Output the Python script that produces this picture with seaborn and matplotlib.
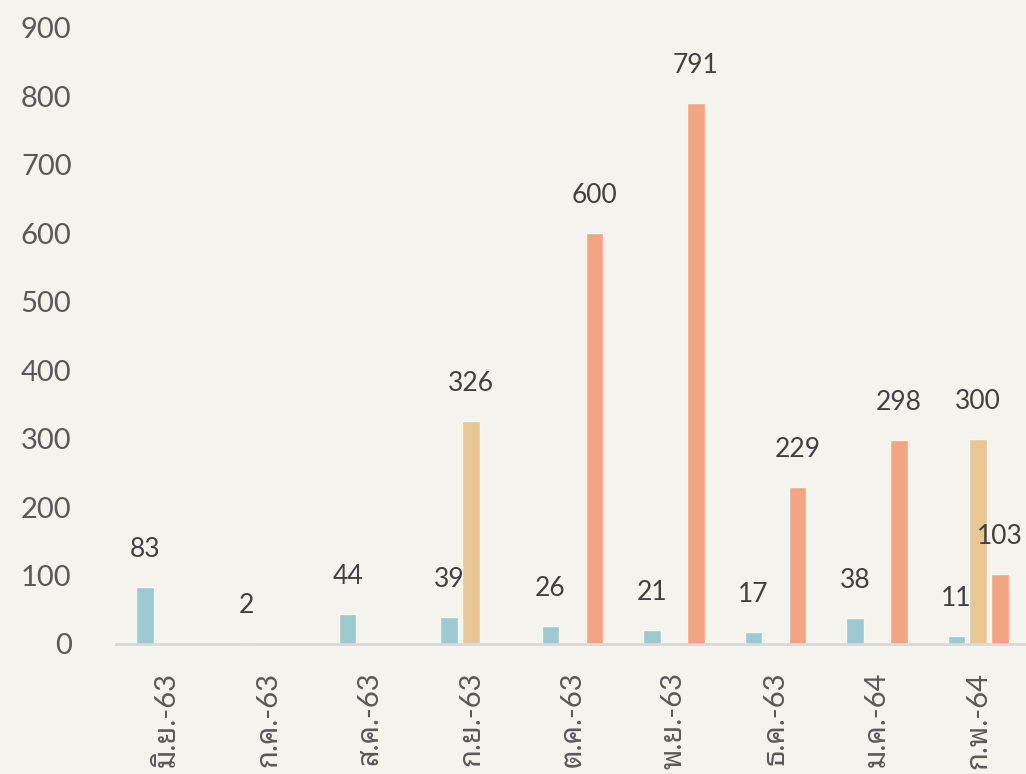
import numpy as np
import pandas as pd
import matplotlib
matplotlib.use("Agg")
import matplotlib.pyplot as plt
import seaborn as sns
from matplotlib import font_manager
from matplotlib.ft2font import FT2Font

months = ['มิ.ย.-63', 'ก.ค.-63', 'ส.ค.-63', 'ก.ย.-63', 'ต.ค.-63',
          'พ.ย.-63', 'ธ.ค.-63', 'ม.ค.-64', 'ก.พ.-64']
series_names = ['A', 'B', 'C']
values_a = [83, 2, 44, 39, 26, 21, 17, 38, 11]
values_b = [np.nan, np.nan, np.nan, 326, np.nan, np.nan, np.nan, np.nan, 300]
values_c = [np.nan, np.nan, np.nan, np.nan, 600, 791, 229, 298, 103]
y_ticks = [0, 100, 200, 300, 400, 500, 600, 700, 800, 900]
colors = ['#9fc9d1', '#e8c794', '#f3a583']


def find_thai():
    for name in ['Noto Sans Thai Looped', 'Noto Looped Thai', 'Noto Serif Thai',
                 'Loma', 'Garuda', 'Norasi', 'Kinnari', 'Waree', 'Umpush',
                 'Tlwg Typo', 'Laksaman', 'Sarabun', 'Noto Sans Thai',
                 'Noto Sans Thai UI']:
        try:
            font_manager.findfont(name, fallback_to_default=False)
            return name
        except Exception:
            pass
    for f in font_manager.fontManager.ttflist:
        try:
            ft = FT2Font(f.fname)
            if 0x0E01 in ft.get_charmap():
                return f.name
        except Exception:
            pass
    return None


sns.set_theme(style="white")
thai = find_thai()
fam = ['Lato']
if thai:
    fam.append(thai)
fam.append('DejaVu Sans')
plt.rcParams['font.family'] = fam

rows = []
for name, vals in zip(series_names, [values_a, values_b, values_c]):
    for m, v in zip(months, vals):
        if not np.isnan(v):
            rows.append({'month': m, 'series': name, 'value': v})
df = pd.DataFrame(rows)

bg = '#f4f3ee'
fig = plt.figure(figsize=(10.26, 7.74), dpi=100, facecolor=bg)
ax = fig.add_axes([116 / 1026, (774 - 644) / 774, (1029 - 116) / 1026, (644 - 28) / 774])
ax.set_facecolor(bg)

sns.barplot(data=df, x='month', y='value', hue='series', order=months,
            hue_order=series_names, palette=colors, saturation=1, width=0.65, gap=0.2,
            edgecolor='#f7f7f2', linewidth=1.0, legend=False, ax=ax)

for cont in ax.containers:
    ax.bar_label(cont, fmt='{:.0f}', padding=18, fontsize=19, color='#404040')

ax.set_ylim(0, 900)
ax.set_xlim(-0.5, 8.5)
ax.set_yticks(y_ticks)
ax.set_yticklabels([str(t) for t in y_ticks], fontsize=21, color='#595959')
ax.tick_params(axis='y', length=0, pad=32)
ax.tick_params(axis='x', length=0, pad=20)
for lab in ax.get_xticklabels():
    lab.set_rotation(90)
    lab.set_fontsize(21)
    lab.set_color('#595959')
    lab.set_va('top')
    lab.set_ha('center')
ax.set_xlabel('')
ax.set_ylabel('')
for s in ['top', 'right', 'left']:
    ax.spines[s].set_visible(False)
ax.spines['bottom'].set_color('#d9d9d9')
ax.spines['bottom'].set_linewidth(2)
ax.grid(False)

fig.savefig('out.png', dpi=100, facecolor=bg)
